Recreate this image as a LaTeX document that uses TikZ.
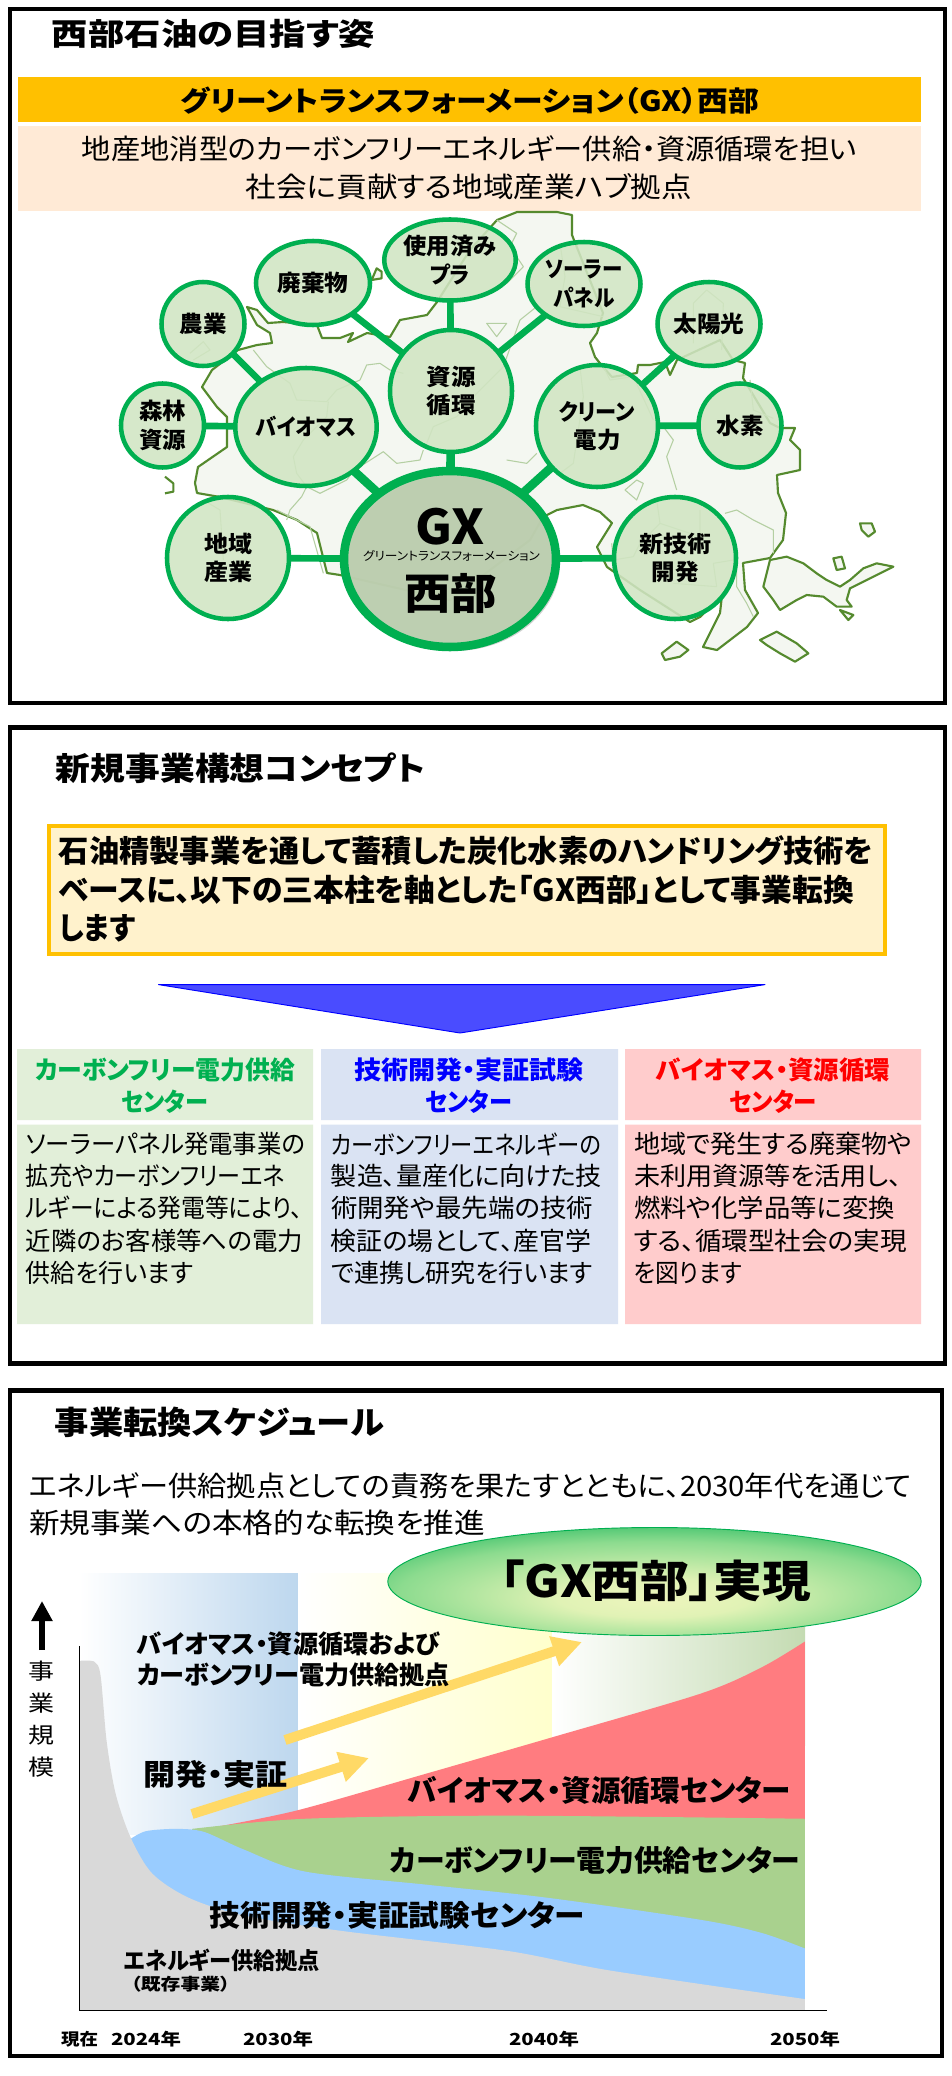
\documentclass[tikz,border=0pt]{standalone}
\usepackage{graphicx}
\usepackage{fontspec}
\setmainfont[RawFeature={+palt}]{Noto Sans CJK JP}
\usetikzlibrary{shapes.geometric,arrows.meta,shadows}
\newdimen\pxu \pxu=0.75pt
\newcommand\tw[2]{\resizebox{#1\pxu}{\height}{#2}}
\newcommand\TL[6]{\node[txt,#1] (#2) at ({(#3+#4)/2},#5) {\tw{\the\numexpr#4-#3\relax}{#6}};}
\definecolor{gxgreen}{HTML}{00AF50}
\definecolor{mapline}{HTML}{558A2E}
\definecolor{mapin}{HTML}{B4CFA2}
\definecolor{mapfill}{HTML}{F4F7F1}
\pgfdeclareradialshading{gxsh}{\pgfpoint{0bp}{-9bp}}{rgb(0bp)=(.93,.96,.74);rgb(9bp)=(.88,.95,.71);rgb(24bp)=(.55,.86,.56);rgb(37bp)=(.06,.70,.34);rgb(44bp)=(0,.69,.31);rgb(60bp)=(0,.69,.31)}
\tikzset{
  txt/.style={inner sep=0pt,outer sep=0pt,text=black},
  bf/.style={font=\fontsize{#1}{#1}\selectfont\bfseries},
  rg/.style={font=\fontsize{#1}{#1}\selectfont},
  frame/.style={draw=black,line width=3.6pt,fill=white},
  bub/.style={ellipse,draw=gxgreen,line width=3.4pt,fill=bubfill,fill opacity=.88,text opacity=1,inner sep=0pt,outer sep=0pt,align=center,font=\fontsize{17}{21.5}\selectfont\bfseries},
  lnk/.style={draw=gxgreen,line width=5pt},
  lnkb/.style={draw=gxgreen,line width=6.5pt},
  coast/.style={draw=mapline,line width=1.6pt,line join=round,fill=mapfill},
  inland/.style={draw=mapin,line width=.8pt,line join=round},
  yarrow/.style={draw=arrowy,line width=7.5pt,-{Triangle[length=22pt,width=22pt]}},
}
\definecolor{bubfill}{HTML}{D1E5C3}
\definecolor{arrowy}{HTML}{FFD966}
\begin{document}
\begin{tikzpicture}[x=0.75pt,y=-0.75pt]
\useasboundingbox (0,0) rectangle (952,2076);
\fill[white] (0,0) rectangle (952,2076);
% ---------- panel 1
\draw[frame] (10,9) rectangle (945,703);
\TL{bf=23}{t1}{52}{375}{34}{西部石油の目指す姿}
\fill[fill={rgb,255:red,255;green,192;blue,0}] (18,77) rectangle (921,122);
\TL{bf=21}{gxb}{181}{759}{101}{グリーントランスフォーメーション（GX）西部}
\fill[fill={rgb,255:red,255;green,234;blue,214}] (18,126) rectangle (921,211);
\TL{rg=21}{pa}{82}{857}{149}{地産地消型のカーボンフリーエネルギー供給・資源循環を担い}
\TL{rg=21}{pb}{246}{692}{187}{社会に貢献する地域産業ハブ拠点}
% map
\draw[coast] (497,220)--(517,212)--(557,212)--(572,215)--(572,235)--(603,313)--(597,333)--(590,343)--(595,357)--(603,367)--(612,377)--(637,373)--(638,365)--(650,365)--(665,362)--(670,375)--(677,360)--(720,340)--(733,360)--(745,363)--(743,378)--(770,423)--(780,428)--(795,428)--(790,440)--(800,450)--(800,470)--(777,475)--(778,493)--(786,513)--(783,540)--(770,558)--(743,563)--(745,590)--(758,613)--(747,627)--(717,650)--(703,647)--(720,613)--(722,595)--(700,617)--(690,622)--(640,590)--(607,567)--(597,547)--(612,523)--(600,512)--(583,505)--(557,510)--(543,517)--(530,540)--(450,600)--(340,575)--(327,573)--(323,557)--(317,533)--(297,520)--(273,510)--(220,497)--(197,493)--(195,483)--(198,467)--(227,447)--(227,417)--(217,407)--(202,387)--(212,370)--(225,360)--(238,350)--(257,345)--(272,343)--(270,333)--(257,325)--(247,307)--(257,310)--(268,323)--(283,322)--(317,325)--(322,338)--(340,338)--(353,333)--(348,342)--(367,333)--(390,337)--(400,320)--(427,315)--(437,302)--(470,250)--cycle;
\begin{scope}[x=0.25pt,y=-0.25pt,shift={(405pt,-157.5pt)}]
\draw[coast] (690,1050)--(740,1040)--(790,1060)--(830,1090)--(860,1110)--(900,1130)--(930,1110)--(970,1075)--(1010,1060)--(1060,1070)--(1020,1090)--(980,1110)--(930,1135)--(920,1170)--(935,1190)--(890,1190)--(850,1160)--(800,1155)--(770,1170)--(720,1200)--(700,1170)--(670,1130)--(680,1090)--cycle;
\draw[coast] (900,1200)--(940,1215)--(925,1230)--cycle;
\draw[coast] (960,940)--(995,940)--(1005,965)--(985,980)--(965,960)--cycle;
\draw[coast] (880,1045)--(905,1040)--(915,1075)--(890,1080)--cycle;
\draw[coast] (365,1330)--(410,1295)--(445,1320)--(420,1340)--(375,1350)--cycle;
\draw[coast] (660,1290)--(710,1265)--(770,1300)--(805,1330)--(765,1355)--(720,1330)--(680,1305)--cycle;
\draw[inland] (370,650)--(400,690)--(380,740)--(410,840);
\draw[inland] (120,470)--(130,560)--(100,760)--(60,790);
\draw[inland] (190,470)--(210,510)--(280,500)--(340,630);
\draw[inland] (555,910)--(590,900)--(640,930)--(700,960)--(700,1030);
\draw[inland] (290,810)--(255,840)--(290,870)--(310,820)--cycle;
\draw[inland] (460,400)--(460,280)--(500,240)--(550,280)--(545,420);
\draw[inland] (630,510)--(640,600)--(700,625);
\draw[inland] (350,870)--(360,940)--(480,980)--(480,900);
\draw[inland] (215,1000)--(220,1050)--(280,1040)--(300,1000)--(360,940);
\draw[inland] (400,1120)--(530,1130)--(520,1060)--(580,1050);
\draw[inland] (590,1060)--(590,1130)--(620,1180)--(640,1220);
\draw[inland] (60,100)--(75,200)--(60,290)--(190,320);
\end{scope}
\begin{scope}[x=0.25pt,y=-0.25pt,shift={(82.5pt,-157.5pt)}]
\draw[coast,fill=none] (165,800)--(190,820)--(190,845)--(165,850);
\draw[coast] (785,210)--(800,175)--(815,185)--(815,205)--cycle;
\draw[inland] (430,420)--(470,470)--(540,520)--(560,570)--(650,575)--(680,540)--(750,510)--(770,465)--(810,460)--(840,480)--(880,490);
\draw[inland] (655,575)--(650,620)--(580,690)--(550,740)--(560,790)--(590,830)--(630,850)--(710,810)--(725,790);
\draw[inland] (590,830)--(575,860)--(540,900)--(530,930);
\draw[inland] (750,770)--(820,725)--(860,760)--(930,750)--(940,720);
\draw[inland] (950,700)--(970,650)--(1040,620)--(1100,550)--(1180,470)--(1230,330)--(1280,290);
\draw[inland] (1160,30)--(1220,70)--(1200,110)--(1240,170)--(1190,220);
\draw[inland] (1130,340)--(1190,340)--(1160,380)--cycle;
\draw[inland] (1190,750)--(1250,760)--(1280,730);
\draw[inland] (500,900)--(600,950)--(640,1090);
\draw[inland] (280,870)--(330,900)--(340,1050);
\draw[inland] (240,430)--(280,395)--(300,420)--(250,450);
\end{scope}
% bubbles
\node[bub,minimum width=212pt*.75,minimum height=176pt*.75,line width=6.4pt,fill=bubfill!72!black!35!bubfill,fill opacity=.97,drop shadow={shadow xshift=3pt,shadow yshift=-3pt,opacity=.35}] (gx) at (450,559) {};
\node[bub,minimum width=83pt*.75,minimum height=84pt*.75] (nogyo) at (203,324) {\tw{47}{農業}};
\node[bub,minimum width=114pt*.75,minimum height=84pt*.75] (haiki) at (313,283) {\tw{71}{廃棄物}};
\node[bub,minimum width=131pt*.75,minimum height=81pt*.75] (pla) at (450,260) {\tw{93}{使用済み}\\\tw{40}{プラ}};
\node[bub,minimum width=113pt*.75,minimum height=84pt*.75] (solar) at (584,284) {\tw{77}{ソーラー}\\\tw{61}{パネル}};
\node[bub,minimum width=103pt*.75,minimum height=84pt*.75] (taiyo) at (709,324) {\tw{71}{太陽光}};
\node[bub,minimum width=83pt*.75,minimum height=84pt*.75] (shinrin) at (162.5,425.5) {\tw{47}{森林}\\\tw{47}{資源}};
\node[bub,minimum width=140pt*.75,minimum height=118pt*.75] (bio) at (306,427) {\tw{100}{バイオマス}};
\node[bub,minimum width=122pt*.75,minimum height=122pt*.75] (shigen) at (451,391) {\tw{49}{資源}\\\tw{49}{循環}};
\node[bub,minimum width=122pt*.75,minimum height=122pt*.75] (clean) at (597,426) {\tw{76}{クリーン}\\\tw{47}{電力}};
\node[bub,minimum width=83pt*.75,minimum height=84pt*.75] (suiso) at (740,425.5) {\tw{47}{水素}};
\node[bub,minimum width=122pt*.75,minimum height=122pt*.75] (chiiki) at (228,558) {\tw{48}{地域}\\\tw{48}{産業}};
\node[bub,minimum width=122pt*.75,minimum height=122pt*.75] (shingi) at (675,558) {\tw{72}{新技術}\\\tw{47}{開発}};
\TL{bf=36}{gxa}{415}{485}{527}{GX}
\TL{rg=9}{gxc}{363}{540}{556}{グリーントランスフォーメーション}
\TL{bf=32}{gxd}{404}{497}{593}{西部}
% connectors
\draw[lnk] (nogyo)--(bio);
\draw[lnk] (shinrin)--(bio);
\draw[lnkb] (bio)--(gx);
\draw[lnk] (haiki)--(shigen);
\draw[lnk] (pla)--(shigen);
\draw[lnk] (solar)--(shigen);
\draw[lnkb] (shigen)--(gx);
\draw[lnk] (taiyo)--(clean);
\draw[lnk] (suiso)--(clean);
\draw[lnkb] (clean)--(gx);
\draw[lnk] (chiiki)--(gx);
\draw[lnk] (shingi)--(gx);
% ---------- panel 2
\draw[frame] (10,727.5) rectangle (945,1363.5);
\TL{bf=24}{t2}{56}{425}{768}{新規事業構想コンセプト}
\draw[draw={rgb,255:red,255;green,192;blue,0},fill={rgb,255:red,255;green,242;blue,204},line width=3pt] (49,826) rectangle (885,954);
\TL{bf=23}{ya}{59}{873}{851}{石油精製事業を通して蓄積した炭化水素のハンドリング技術を}
\TL{bf=23}{yb}{59}{854}{890}{ベースに、以下の三本柱を軸とした「GX西部」として事業転換}
\TL{bf=23}{yc}{59}{135}{928}{します}
\draw[draw={rgb,255:red,0;green,0;blue,255},fill={rgb,255:red,74;green,76;blue,255},line width=.7pt,line join=round] (158.5,984.6)--(765,984.6)--(460,1033)--cycle;
\fill[fill={rgb,255:red,226;green,239;blue,217}] (17,1049) rectangle (313,1120) (17,1124.6) rectangle (313,1324);
\fill[fill={rgb,255:red,218;green,227;blue,243}] (321,1049) rectangle (618,1120) (321,1124.6) rectangle (618,1324);
\fill[fill={rgb,255:red,255;green,204;blue,204}] (625,1049) rectangle (921,1120) (625,1124.6) rectangle (921,1324);
\TL{bf=19,text={rgb,255:red,0;green,176;blue,80}}{h1a}{35}{295}{1070}{カーボンフリー電力供給}
\TL{bf=19,text={rgb,255:red,0;green,176;blue,80}}{h1b}{121}{208}{1102}{センター}
\TL{bf=19,text={rgb,255:red,0;green,0;blue,255}}{h2a}{354}{584}{1070}{技術開発・実証試験}
\TL{bf=19,text={rgb,255:red,0;green,0;blue,255}}{h2b}{425}{512}{1102}{センター}
\TL{bf=19,text={rgb,255:red,255;green,0;blue,0}}{h3a}{656}{890}{1070}{バイオマス・資源循環}
\TL{bf=19,text={rgb,255:red,255;green,0;blue,0}}{h3b}{729}{817}{1102}{センター}
\TL{rg=19}{b1a}{26}{305}{1144}{ソーラーパネル発電事業の}
\TL{rg=19}{b1b}{26}{285}{1176}{拡充やカーボンフリーエネ}
\TL{rg=19}{b1c}{26}{303}{1208}{ルギーによる発電等により、}
\TL{rg=19}{b1d}{26}{303}{1241}{近隣のお客様等への電力}
\TL{rg=19}{b1e}{26}{193}{1273}{供給を行います}
\TL{rg=19}{b2a}{331}{601}{1144}{カーボンフリーエネルギーの}
\TL{rg=19}{b2b}{331}{602}{1176}{製造、量産化に向けた技}
\TL{rg=19}{b2c}{331}{593}{1208}{術開発や最先端の技術}
\TL{rg=19}{b2d}{331}{591}{1241}{検証の場として、産官学}
\TL{rg=19}{b2e}{331}{593}{1273}{で連携し研究を行います}
\TL{rg=19}{b3a}{634}{912}{1144}{地域で発生する廃棄物や}
\TL{rg=19}{b3b}{634}{902}{1176}{未利用資源等を活用し、}
\TL{rg=19}{b3c}{634}{895}{1208}{燃料や化学品等に変換}
\TL{rg=19}{b3d}{634}{907}{1241}{する、循環型社会の実現}
\TL{rg=19}{b3e}{634}{742}{1273}{を図ります}
% ---------- panel 3
\draw[frame] (10,1390.5) rectangle (942,2056);
\TL{bf=24}{t3}{55}{384}{1422}{事業転換スケジュール}
\TL{rg=21}{s1}{29}{912}{1486}{エネルギー供給拠点としての責務を果たすとともに、2030年代を通じて}
\TL{rg=21}{s2}{29}{485}{1523}{新規事業への本格的な転換を推進}
\fill[left color=white,right color={rgb,255:red,189;green,215;blue,238}] (79,1573) rectangle (298,1834);
\fill[left color=white,right color={rgb,255:red,255;green,255;blue,204}] (298,1573) rectangle (552,1816);
\fill[left color=white,right color={rgb,255:red,196;green,219;blue,178}] (552,1610) rectangle (805,1745);
\begin{scope}[x=0.4573pt,y=-0.3298pt,shift={(0pt,-1042.5pt)}]
\fill[fill={rgb,255:red,255;green,124;blue,128}] plot[smooth,tension=.5] coordinates {(360,992) (490,955) (700,872) (905,790) (1150,690) (1250,630) (1320,572)} -- (1320,1411) -- (360,1411) -- cycle;
\fill[fill={rgb,255:red,169;green,209;blue,142}] plot[smooth,tension=.5] coordinates {(315,998) (500,975) (830,968) (1320,975)} -- (1320,1411) -- (315,1411) -- cycle;
\fill[fill={rgb,255:red,153;green,204;blue,255}] plot[smooth,tension=.5] coordinates {(215,1020) (240,1003) (290,998) (335,1005) (400,1045) (500,1095) (700,1125) (900,1155) (1150,1205) (1250,1235) (1320,1270)} -- (1320,1411) -- (215,1411) -- cycle;
\fill[fill={rgb,255:red,217;green,217;blue,217}] (130,616) -- plot[smooth,tension=.5] coordinates {(130,616) (155,618) (165,650) (175,800) (190,920) (215,1020) (250,1100) (310,1155) (400,1195) (560,1230) (830,1275) (1000,1320) (1320,1385)} -- (1320,1411) -- (130,1411) -- cycle;
\draw[black,line width=1pt] (130,582) -- (130,1411) -- (1357,1411);
\end{scope}
\coordinate (a1s) at (285,1740);
\coordinate (a1e) at (582,1642);
\coordinate (a2s) at (192,1814);
\coordinate (a2e) at (369,1758);
\draw[yarrow] (a1s)--(a1e);
\draw[yarrow] (a2s)--(a2e);
\node[ellipse,draw=gxgreen,line width=.7pt,shading=gxsh,minimum width=400pt,minimum height=81pt,inner sep=0pt] (goal) at (654.5,1581.5) {};
\TL{bf=33}{goalt}{500}{811}{1581}{「GX西部」実現}
\coordinate (ub) at (42,1650);
\coordinate (ut) at (42,1601);
\draw[black,line width=3.8pt,-{Triangle[length=15pt,width=15pt]}] (ub)--(ut);
\TL{rg=16.5}{v1}{29}{55}{1671}{事}
\TL{rg=16.5}{v2}{29}{55}{1703}{業}
\TL{rg=16.5}{v3}{29}{55}{1735}{規}
\TL{rg=16.5}{v4}{29}{55}{1767}{模}
\TL{bf=19}{l1}{137}{440}{1644}{バイオマス・資源循環および}
\TL{bf=19}{l2}{137}{450}{1675}{カーボンフリー電力供給拠点}
\TL{bf=22}{l3}{143}{287}{1774}{開発・実証}
\TL{bf=22}{l4}{408}{791}{1790}{バイオマス・資源循環センター}
\TL{bf=22}{l5}{390}{800}{1860}{カーボンフリー電力供給センター}
\TL{bf=22}{l6}{210}{585}{1915}{技術開発・実証試験センター}
\TL{bf=17.5}{l7}{124}{320}{1960}{エネルギー供給拠点}
\TL{bf=12.5}{l8}{131}{230}{1984}{（既存事業）}
\TL{bf=12.5}{y0}{61}{98}{2039}{現在}
\TL{bf=12.5}{y1}{111}{181}{2039}{2024年}
\TL{bf=12.5}{y2}{243}{313}{2039}{2030年}
\TL{bf=12.5}{y3}{509}{579}{2039}{2040年}
\TL{bf=12.5}{y4}{770}{840}{2039}{2050年}
\end{tikzpicture}
\end{document}
